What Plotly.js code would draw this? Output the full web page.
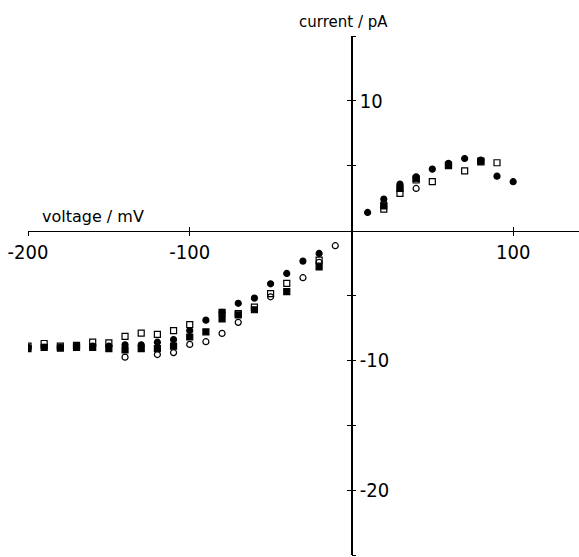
<!DOCTYPE html>
<html>
<head>
<meta charset="utf-8">
<script src="https://cdn.plot.ly/plotly-3.0.1.min.js"></script>
<style>html,body{margin:0;padding:0;background:#fff;}#chart{width:579px;height:557px;}</style>
</head>
<body>
<div id="chart"></div>
<script>
// Filled circles
const voltageFilledCircle = [-200,-190,-180,-170,-160,-150,-140,-130,-120,-110,-100,-90,-80,-70,-60,-50,-40,-30,-20,10,20,30,40,50,60,70,80,90,100];
const currentFilledCircle = [-9.0,-9.0,-9.0,-8.9,-8.9,-8.9,-8.8,-8.8,-8.6,-8.4,-7.7,-6.9,-6.3,-5.6,-5.2,-4.1,-3.3,-2.35,-1.76,1.4,2.43,3.58,4.15,4.74,5.18,5.56,5.43,4.2,3.77];
// Open circles
const voltageOpenCircle = [-140,-120,-110,-100,-90,-80,-70,-50,-30,-20,-10,20,30,40,60];
const currentOpenCircle = [-9.75,-9.55,-9.4,-8.77,-8.56,-7.92,-7.07,-5.1,-3.63,-2.45,-1.16,2.1,3.3,3.25,5.05];
// Open squares
const voltageOpenSquare = [-200,-190,-180,-170,-160,-150,-140,-130,-120,-110,-100,-80,-70,-60,-50,-40,-20,20,30,40,50,60,70,80,90];
const currentOpenSquare = [-8.9,-8.7,-8.9,-8.85,-8.6,-8.65,-8.15,-7.9,-8.0,-7.7,-7.25,-6.3,-6.4,-5.9,-4.85,-4.07,-2.27,1.66,2.87,3.9,3.77,5.0,4.61,5.3,5.23];
// Filled squares
const voltageFilledSquare = [-200,-190,-180,-170,-160,-150,-140,-130,-120,-110,-100,-90,-80,-70,-60,-40,-20,20,30,40,60,80];
const currentFilledSquare = [-9.1,-9.0,-9.05,-9.0,-9.0,-9.1,-9.2,-9.1,-9.1,-8.9,-8.2,-7.8,-6.8,-6.5,-6.1,-4.7,-2.8,1.9,3.25,4.0,5.05,5.35];

const xTickVals = [-200,-100,100];
const xTickText = ['-200','-100','100'];
const yTickVals = [-25,-20,-15,-10,-5,5,10,15];
const yTickText = ['','-20','','-10','','','10',''];
const xTitle = 'voltage / mV';
const yTitle = 'current / pA';

const xRange = [-200, 140.7];
const yRange = [-25, 15];
const yAxisPos = (0 - xRange[0]) / (xRange[1] - xRange[0]);
const xAxisPos = (0 - yRange[0]) / (yRange[1] - yRange[0]);

const tickFont = {family: '"DejaVu Sans Condensed", "Liberation Sans Narrow", "Arial Narrow", sans-serif', size: 20, color: '#000'};
const titleFont = {family: '"DejaVu Sans", sans-serif', size: 15, color: '#000'};

const mk = (x, y, symbol) => ({
  x: x, y: y, type: 'scatter', mode: 'markers', showlegend: false, hoverinfo: 'skip',
  marker: {symbol: symbol, size: 6, color: '#000', line: {color: '#000', width: 1.2}}
});

const data = [
  mk(voltageOpenSquare, currentOpenSquare, 'square-open'),
  mk(voltageFilledSquare, currentFilledSquare, 'square'),
  mk(voltageOpenCircle, currentOpenCircle, 'circle-open'),
  mk(voltageFilledCircle, currentFilledCircle, 'circle')
];

const baseX = {range: xRange, showgrid: false, zeroline: false, fixedrange: true};
const baseY = {range: yRange, showgrid: false, zeroline: false, fixedrange: true};

const layout = {
  width: 579, height: 557,
  margin: {l: 28, r: 0, t: 36, b: 2},
  paper_bgcolor: '#fff', plot_bgcolor: '#fff',
  showlegend: false,
  xaxis: Object.assign({}, baseX, {
    anchor: 'free', position: xAxisPos,
    showline: true, linecolor: '#000', linewidth: 1.3,
    ticks: 'inside', ticklen: 4, tickwidth: 1, tickcolor: '#000',
    tickmode: 'array', tickvals: xTickVals, ticktext: xTickText,
    ticklabelstandoff: 3,
    tickfont: tickFont
  }),
  xaxis2: Object.assign({}, baseX, {
    overlaying: 'x', anchor: 'free', position: xAxisPos,
    showline: false, showticklabels: false,
    ticks: 'outside', ticklen: 4, tickwidth: 1, tickcolor: '#000',
    tickmode: 'array', tickvals: xTickVals
  }),
  yaxis: Object.assign({}, baseY, {
    anchor: 'free', position: yAxisPos, side: 'right',
    showline: true, linecolor: '#000', linewidth: 1.3,
    ticks: 'inside', ticklen: 4, tickwidth: 1, tickcolor: '#000',
    tickmode: 'array', tickvals: yTickVals, ticktext: yTickText,
    ticklabelstandoff: 3,
    tickfont: tickFont
  }),
  yaxis2: Object.assign({}, baseY, {
    overlaying: 'y', anchor: 'free', position: yAxisPos, side: 'right',
    showline: false, showticklabels: false,
    ticks: 'outside', ticklen: 4, tickwidth: 1, tickcolor: '#000',
    tickmode: 'array', tickvals: yTickVals
  }),
  annotations: [
    {text: xTitle, xref: 'paper', yref: 'paper', x: 0.022, y: xAxisPos, yshift: 14,
     xanchor: 'left', yanchor: 'middle', showarrow: false,
     font: Object.assign({}, titleFont, {size: 16})},
    {text: yTitle, xref: 'paper', yref: 'paper', x: yAxisPos, y: 1, yshift: 3, xshift: -8,
     xanchor: 'center', yanchor: 'bottom', showarrow: false, font: titleFont}
  ]
};

// empty trace to activate the overlay axes
data.push({x: [], y: [], xaxis: 'x2', yaxis: 'y2', type: 'scatter', mode: 'markers', showlegend: false});

Plotly.newPlot('chart', data, layout, {displayModeBar: false, staticPlot: true});
</script>
</body>
</html>
